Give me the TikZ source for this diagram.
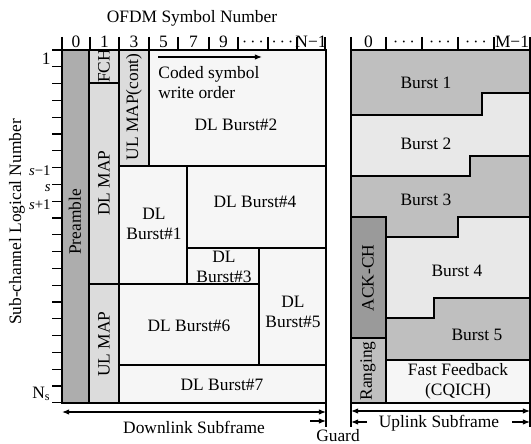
\documentclass[tikz,border=0pt]{standalone}
\usepackage{fontspec}
\setmainfont{Liberation Serif}
\usetikzlibrary{arrows.meta}
\definecolor{PreambleGray}{HTML}{ADADAD}
\definecolor{MapGray}{HTML}{DCDCDC}
\definecolor{BurstPale}{HTML}{F6F6F6}
\definecolor{UlDark}{HTML}{BFBFBF}
\definecolor{UlLight}{HTML}{E8E8E8}
\definecolor{AckGray}{HTML}{9A9A9A}

\begin{document}
\begin{tikzpicture}[x=0.5pt,y=-0.5pt,line join=miter,
  every node/.style={font=\fontsize{8.7}{10}\selectfont,inner sep=0pt,align=center},
  blk/.style={draw,line width=0.6pt},
  vtext/.style={rotate=90},
  tick/.style={line width=0.6pt},
  sidx/.style={anchor=east,font=\fontsize{7.4}{8}\selectfont},
  dimarrow/.style={line width=0.6pt,{Latex[length=3.6pt,width=2.8pt]}-{Latex[length=3.6pt,width=2.8pt]}},
  onearrow/.style={line width=0.6pt,-{Latex[length=3.6pt,width=2.8pt]}}]
  \useasboundingbox (0,0) rectangle (531,444);
  % downlink subframe
  \filldraw[blk,fill=PreambleGray] (62,50) rectangle (89,403);
  \filldraw[blk,fill=MapGray] (89,50) rectangle (119,83);
  \filldraw[blk,fill=MapGray] (89,83) rectangle (119,284);
  \filldraw[blk,fill=MapGray] (89,284) rectangle (119,403);
  \filldraw[blk,fill=MapGray] (119,50) rectangle (149,166);
  \filldraw[blk,fill=BurstPale] (149,50) rectangle (326,166);
  \filldraw[blk,fill=BurstPale] (119,166) rectangle (187,284);
  \filldraw[blk,fill=BurstPale] (187,166) rectangle (326,248);
  \filldraw[blk,fill=BurstPale] (187,248) rectangle (259,284);
  \filldraw[blk,fill=BurstPale] (259,248) rectangle (326,365);
  \filldraw[blk,fill=BurstPale] (119,284) rectangle (259,365);
  \filldraw[blk,fill=BurstPale] (119,365) rectangle (326,403);
  \node[vtext] (pre) at (75,222) {Preamble};
  \node[vtext] (fch) at (104,66) {FCH};
  \node[vtext] (dlmap) at (104,183) {DL MAP};
  \node[vtext] (ulmap) at (104,344) {UL MAP};
  \node[vtext] (ulcont) at (134,107) {UL MAP(cont)};
  \coordinate (wrS) at (158,57);\coordinate (wrE) at (262,57);
  \draw[onearrow] (wrS) -- (wrE);
  \node[anchor=west,align=left] (order) at (158,83) {Coded symbol\\write order};
  \node (b2) at (236,125) {DL Burst\#2};
  \node (b1) at (154,224) {DL\\Burst\#1};
  \node (b4) at (255,202) {DL Burst\#4};
  \node (b3) at (224,267) {DL\\Burst\#3};
  \node (b5) at (293,312) {DL\\Burst\#5};
  \node (b6) at (189,326) {DL Burst\#6};
  \node (b7) at (222,385) {DL Burst\#7};
  % symbol header
  \node (ofdm) at (192,18) {OFDM Symbol Number};
  \draw[tick] (62,50) -- (326,50);
  \foreach \x in {62,90,119,149,178,209,238,268,297,325} \draw[tick] (\x,37) -- (\x,50);
  \foreach \x/\t in {76/0,104.5/1,134/3,163.5/5,193.5/7,223.5/9,253/$\cdots$,282.5/$\cdots$,311/N−1}
    \node at (\x,42) {\t};
  % sub-channel axis
  \foreach \k in {0,...,21} \draw[tick] (52,50+16.8*\k) -- (62,50+16.8*\k);
  \node[anchor=east] (one) at (51,59) {1};
  \node[sidx] (sm) at (51,171) {\textit{s}−1};
  \node[sidx] (s) at (51,188) {\textit{s}};
  \node[sidx] (sp) at (51,205) {\textit{s}+1};
  \node[anchor=east] (ns) at (51,394) {N\textsubscript{s}};
  \node[vtext] (axis) at (17,222) {Sub-channel Logical Number};
  % uplink subframe
  \filldraw[blk,fill=UlDark] (351,50) -- (530,50) -- (530,93) -- (482,93) -- (482,115) -- (351,115) -- cycle;
  \filldraw[blk,fill=UlLight] (351,115) -- (482,115) -- (482,93) -- (530,93) -- (530,156) -- (470,156) -- (470,176) -- (351,176) -- cycle;
  \filldraw[blk,fill=UlDark] (351,176) -- (470,176) -- (470,156) -- (530,156) -- (530,217) -- (458,217) -- (458,237) -- (386,237) -- (386,217) -- (351,217) -- cycle;
  \filldraw[blk,fill=UlLight] (386,237) -- (458,237) -- (458,217) -- (530,217) -- (530,298) -- (434,298) -- (434,318) -- (386,318) -- cycle;
  \filldraw[blk,fill=UlDark] (386,318) -- (434,318) -- (434,298) -- (530,298) -- (530,360) -- (386,360) -- cycle;
  \filldraw[blk,fill=AckGray] (351,217) rectangle (386,338);
  \filldraw[blk,fill=UlDark] (351,338) rectangle (386,403);
  \filldraw[blk,fill=BurstPale] (386,360) rectangle (530,403);
  \node (u1) at (426,83) {Burst 1};
  \node (u2) at (426,144) {Burst 2};
  \node (u3) at (426,200) {Burst 3};
  \node (u4) at (457,271) {Burst 4};
  \node (u5) at (477,335) {Burst 5};
  \node (ff) at (458,381) {Fast Feedback\\(CQICH)};
  \node[vtext] (ack) at (368,278) {ACK-CH};
  \node[vtext] (rng) at (368,371) {Ranging};
  \draw[tick] (351,50) -- (530,50);
  \foreach \x in {351,386,422,458,494,530} \draw[tick] (\x,37) -- (\x,50);
  \foreach \x/\t in {368.5/0,404/$\cdots$,440/$\cdots$,476/$\cdots$,512/M−1}
    \node at (\x,42) {\t};
  % subframe extents and guard
  \coordinate (dlL) at (62,412);\coordinate (dlR) at (326,412);
  \coordinate (ulL) at (351,411);\coordinate (ulR) at (530,411);
  \draw[dimarrow] (dlL) -- (dlR);
  \draw[dimarrow] (ulL) -- (ulR);
  \draw[tick] (326,403) -- (326,427) (351,403) -- (351,427) (530,403) -- (530,427);
  \coordinate (gA) at (310,421);\coordinate (gB) at (326,421);
  \coordinate (gC) at (367,422);\coordinate (gD) at (351,422);
  \coordinate (uA) at (512,422);\coordinate (uB) at (530,422);
  \draw[onearrow] (gA) -- (gB);\draw[onearrow] (gC) -- (gD);\draw[onearrow] (uA) -- (uB);
  \node (dltext) at (194,427) {Downlink Subframe};
  \node (ultext) at (439,423) {Uplink Subframe};
  \node (guard) at (338,436) {Guard};
\end{tikzpicture}
\end{document}
